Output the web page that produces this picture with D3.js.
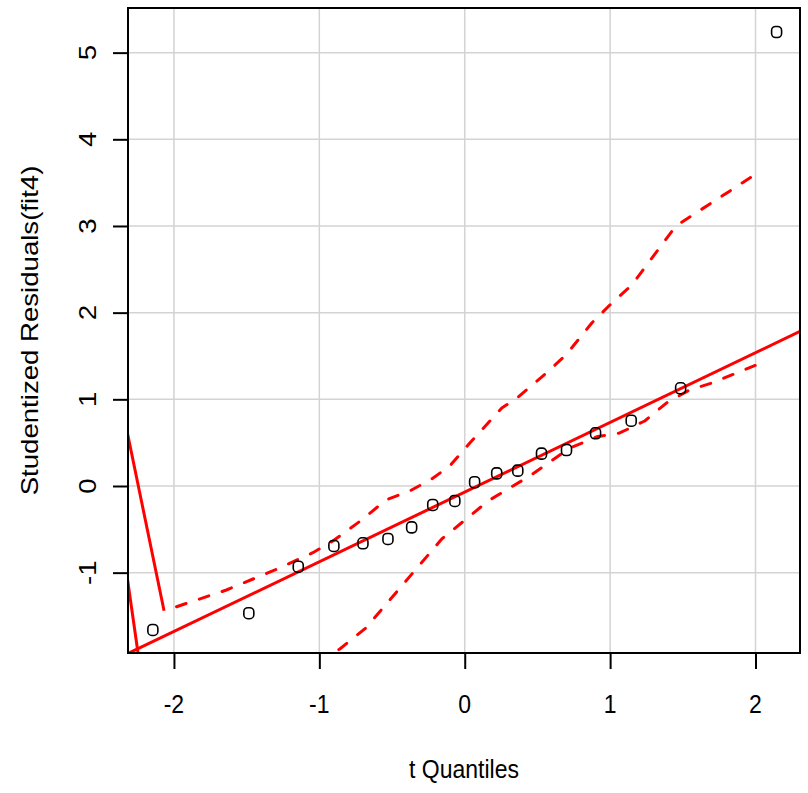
<html><head>
<meta charset="utf-8">
<script src="https://d3js.org/d3.v7.min.js"></script>
<style>
  body { margin: 0; background: #fff; }
  text { font-family: "Liberation Sans", Arial, sans-serif; fill: #000; }
  .grid line { stroke: #d3d3d3; stroke-width: 1.5px; }
</style>
</head>
<body>
<svg id="chart" width="808" height="793"></svg>
<script>

// qq plot of studentized residuals vs t quantiles
const tQuantiles = [-2.145, -1.485, -1.145, -0.90, -0.70, -0.528, -0.365, -0.22, -0.068,
                    0.068, 0.22, 0.365, 0.528, 0.70, 0.90, 1.145, 1.485, 2.145];
const residuals = [-1.661, -1.468, -0.931, -0.692, -0.661, -0.611, -0.477, -0.219, -0.173,
                   0.043, 0.146, 0.177, 0.373, 0.415, 0.608, 0.753, 1.127, 5.238];

// reference line
const lineIntercept = -0.07;
const lineSlope = 0.804;

// confidence envelope (dashed)
const upperX = [-1.982, -1.639, -1.295, -1.045, -0.907, -0.708, -0.543, -0.378, -0.227, -0.103,
                0.035, 0.255, 0.360, 0.585, 0.702, 0.874, 0.998, 1.149, 1.452, 1.983];
const upperY = [-1.393, -1.200, -0.961, -0.770, -0.635, -0.392, -0.162, -0.058, 0.081, 0.231,
                0.496, 0.900, 1.015, 1.338, 1.523, 1.881, 2.088, 2.319, 3.000, 3.577];
const lowerX = [-1.011, -0.859, -0.680, -0.158, 0.165, 0.447, 0.722, 0.915, 1.066, 1.238,
                1.396, 1.547, 1.699, 2.018];
const lowerY = [-2.019, -1.881, -1.638, -0.612, -0.168, 0.115, 0.438, 0.571, 0.612, 0.750,
                0.969, 1.108, 1.188, 1.404];

// stray solid segments at the left edge
const strayA = [[-2.35, 0.855], [-2.068, -1.439]];
const strayB = [[-2.35, -0.717], [-2.24, -2.01]];

const xTicks = [-2, -1, 0, 1, 2];
const yTicks = [-1, 0, 1, 2, 3, 4, 5];

const svg = d3.select("#chart");
const plot = { left: 128, right: 800, top: 8, bottom: 653 };
const stretch = 1.15;   // the source image is a bit taller than wide

const x = d3.scaleLinear().domain([-2.316, 2.306]).range([plot.left, plot.right]);
const y = d3.scaleLinear().domain([-1.927, 5.515]).range([plot.bottom, plot.top]);

svg.append("clipPath").attr("id", "clip")
  .append("rect")
  .attr("x", plot.left).attr("y", plot.top)
  .attr("width", plot.right - plot.left).attr("height", plot.bottom - plot.top);

// grid
const grid = svg.append("g").attr("class", "grid");
grid.selectAll("line.v").data(xTicks).join("line")
  .attr("class", "v")
  .attr("x1", d => x(d)).attr("x2", d => x(d))
  .attr("y1", plot.top).attr("y2", plot.bottom);
grid.selectAll("line.h").data(yTicks).join("line")
  .attr("class", "h")
  .attr("x1", plot.left).attr("x2", plot.right)
  .attr("y1", d => y(d)).attr("y2", d => y(d));

const marks = svg.append("g").attr("clip-path", "url(#clip)");
const line = d3.line().x(d => x(d[0])).y(d => y(d[1]));

// fitted line
marks.append("path")
  .attr("d", line(x.domain().map(v => [v, lineIntercept + lineSlope * v])))
  .attr("fill", "none").attr("stroke", "red").attr("stroke-width", 3);

[strayA, strayB].forEach(seg => {
  marks.append("path")
    .attr("d", line(seg))
    .attr("fill", "none").attr("stroke", "red").attr("stroke-width", 3);
});

// envelope
[d3.zip(upperX, upperY), d3.zip(lowerX, lowerY)].forEach(pts => {
  marks.append("path")
    .attr("d", line(pts))
    .attr("fill", "none").attr("stroke", "red").attr("stroke-width", 3)
    .attr("stroke-dasharray", "10,14").attr("stroke-linecap", "round")
    .attr("stroke-linejoin", "round");
});

// points
marks.selectAll("rect.pt").data(d3.zip(tQuantiles, residuals)).join("rect")
  .attr("class", "pt")
  .attr("x", d => x(d[0]) - 5).attr("y", d => y(d[1]) - 5.5)
  .attr("width", 10).attr("height", 11).attr("rx", 4)
  .attr("fill", "none").attr("stroke", "#000").attr("stroke-width", 1.6);

// box
svg.append("rect")
  .attr("x", plot.left).attr("y", plot.top)
  .attr("width", plot.right - plot.left).attr("height", plot.bottom - plot.top)
  .attr("fill", "none").attr("stroke", "#000").attr("stroke-width", 2);

// axes (ticks only, labels drawn by hand below)
const xAxis = svg.append("g")
  .attr("transform", "translate(0," + plot.bottom + ")")
  .call(d3.axisBottom(x).tickValues(xTicks).tickSize(16).tickFormat(""));
const yAxis = svg.append("g")
  .attr("transform", "translate(" + plot.left + ",0)")
  .call(d3.axisLeft(y).tickValues(yTicks).tickSize(15).tickFormat(""));

[xAxis, yAxis].forEach(a => {
  a.select(".domain").remove();
  a.selectAll(".tick line").attr("stroke", "#000").attr("stroke-width", 2);
});

svg.append("g").selectAll("text").data(xTicks).join("text")
  .attr("transform", d => "translate(" + x(d) + ",713) scale(1," + stretch + ")")
  .attr("text-anchor", "middle").attr("font-size", 23)
  .text(d => String(d));

svg.append("g").selectAll("text").data(yTicks).join("text")
  .attr("transform", d => "translate(96," + y(d) + ") rotate(-90) scale(1.2,1)")
  .attr("text-anchor", "middle").attr("font-size", 23)
  .text(d => String(d));

// titles
svg.append("text")
  .attr("transform", "translate(" + (plot.left + plot.right) / 2 + ",778) scale(1," + stretch + ")")
  .attr("text-anchor", "middle").attr("font-size", 23)
  .text("t Quantiles");
svg.append("text")
  .attr("transform", "translate(38," + (plot.top + plot.bottom) / 2 + ") rotate(-90) scale(1.2,1)")
  .attr("text-anchor", "middle").attr("font-size", 23)
  .text("Studentized Residuals(fit4)");

</script>
</body>
</html>
